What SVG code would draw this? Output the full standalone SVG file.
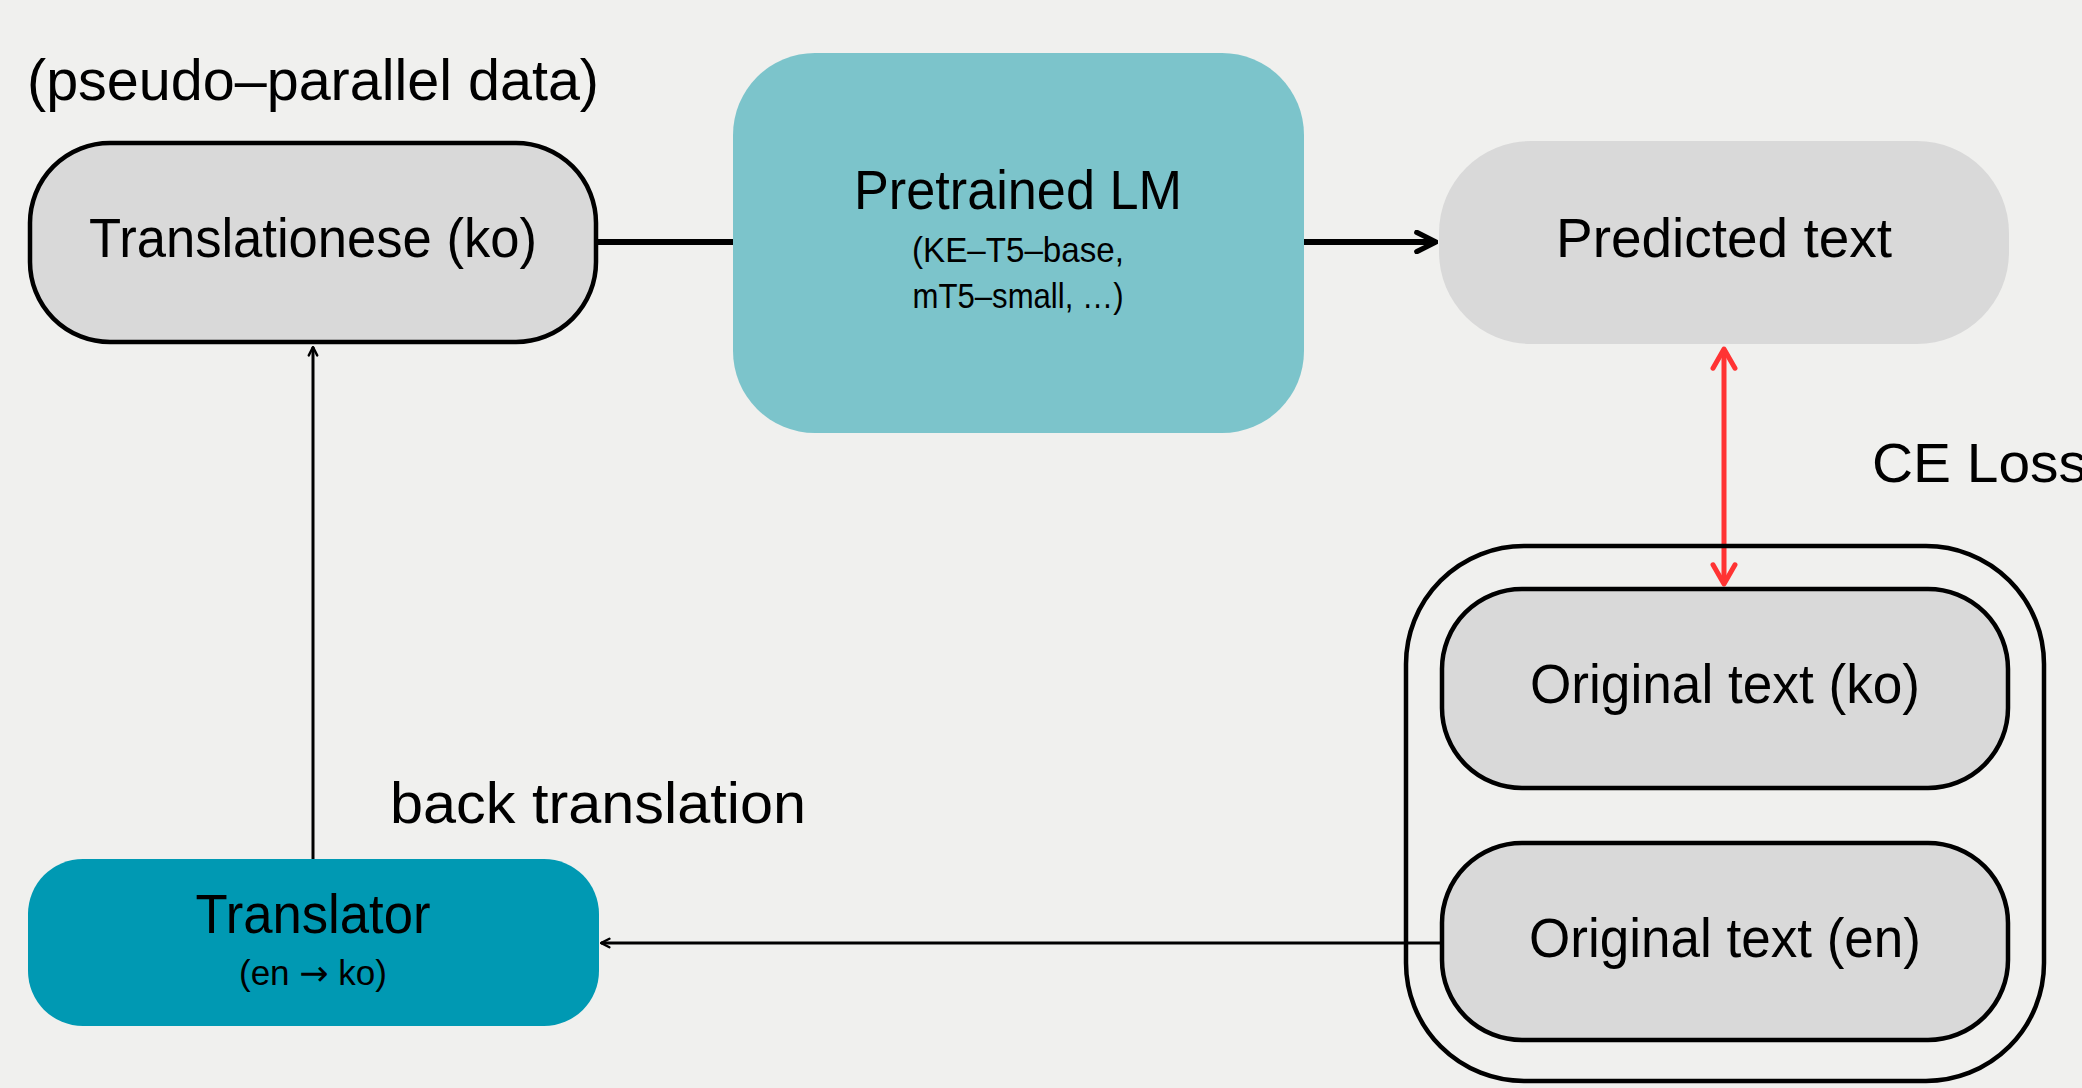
<svg xmlns="http://www.w3.org/2000/svg" width="2082" height="1088" viewBox="0 0 2082 1088">
<style>
text{font-family:"Liberation Sans",Arial,sans-serif;fill:#000}
.lbl{font-size:55px;text-anchor:middle}
.sub{font-size:35px;text-anchor:middle}
.free{font-size:57px}
.gray{fill:#D9D9D9}
.stk{stroke:#000;stroke-width:4.5}
.thin{stroke:#000;stroke-width:3;fill:none}
.arr{font-family:"DejaVu Sans",sans-serif}
</style>
<defs>
<marker id="headThick" viewBox="0 0 10 10" refX="9" refY="5" markerWidth="4" markerHeight="4" orient="auto" markerUnits="strokeWidth">
<path d="M1,1 L9,5 L1,9" fill="none" stroke="#000" stroke-width="2.2" stroke-linecap="round" stroke-linejoin="round"/>
</marker>
<marker id="headThin" viewBox="0 0 10 10" refX="9" refY="5" markerWidth="4" markerHeight="4" orient="auto" markerUnits="strokeWidth">
<path d="M2,1.5 L9,5 L2,8.5" fill="none" stroke="#000" stroke-width="2" stroke-linecap="round" stroke-linejoin="round"/>
</marker>
<marker id="headRed" viewBox="0 0 10 10" refX="9" refY="5" markerWidth="5.5" markerHeight="5.5" orient="auto-start-reverse" markerUnits="strokeWidth">
<path d="M2,1 L9,5 L2,9" fill="none" stroke="#FF3333" stroke-width="1.8" stroke-linecap="round" stroke-linejoin="round"/>
</marker>
</defs>
<rect x="0" y="0" width="2082" height="1088" fill="#F0F0EE"/>

<g id="connectors">
<line x1="597" y1="242" x2="733" y2="242" stroke="#000" stroke-width="6"/>
<line x1="1304" y1="242" x2="1436" y2="242" stroke="#000" stroke-width="6" marker-end="url(#headThick)"/>
<line x1="1724" y1="349" x2="1724" y2="584" stroke="#FF3333" stroke-width="5" marker-start="url(#headRed)" marker-end="url(#headRed)"/>
<line x1="1441" y1="943" x2="601" y2="943" class="thin" marker-end="url(#headThin)"/>
<line x1="313" y1="859" x2="313" y2="347" class="thin" marker-end="url(#headThin)"/>
</g>

<g id="label-pseudo">
<text class="free" x="27" y="100" textLength="572" lengthAdjust="spacingAndGlyphs">(pseudo–parallel data)</text>
</g>

<g id="node-translationese">
<rect x="30" y="143" width="566" height="199" rx="80" class="gray stk"/>
<text class="lbl" x="313" y="257" textLength="448" lengthAdjust="spacingAndGlyphs">Translationese (ko)</text>
</g>

<g id="node-lm">
<rect x="733" y="53" width="571" height="380" rx="82" fill="#7CC4CB"/>
<text class="lbl" x="1018" y="209" textLength="328" lengthAdjust="spacingAndGlyphs">Pretrained LM</text>
<text class="sub" x="1018" y="262" textLength="212" lengthAdjust="spacingAndGlyphs">(KE–T5–base,</text>
<text class="sub" x="1018" y="308" textLength="211" lengthAdjust="spacingAndGlyphs">mT5–small, …)</text>
</g>

<g id="node-predicted">
<rect x="1439" y="141" width="570" height="203" rx="92" class="gray"/>
<text class="lbl" x="1724" y="257" textLength="336" lengthAdjust="spacingAndGlyphs">Predicted text</text>
</g>

<g id="label-ce">
<text class="free" x="1872" y="482" style="font-size:55px" textLength="215" lengthAdjust="spacingAndGlyphs">CE Loss</text>
</g>

<g id="group-original">
<rect x="1406" y="546" width="638" height="535" rx="118" fill="none" class="stk"/>
</g>

<g id="node-orig-ko">
<rect x="1442" y="589" width="566" height="199" rx="80" class="gray stk"/>
<text class="lbl" x="1725" y="703" textLength="390" lengthAdjust="spacingAndGlyphs">Original text (ko)</text>
</g>

<g id="node-orig-en">
<rect x="1442" y="843" width="566" height="197" rx="80" class="gray stk"/>
<text class="lbl" x="1725" y="957" textLength="392" lengthAdjust="spacingAndGlyphs">Original text (en)</text>
</g>

<g id="label-back">
<text class="free" x="390" y="823" textLength="416" lengthAdjust="spacingAndGlyphs">back translation</text>
</g>

<g id="node-translator">
<rect x="28" y="859" width="571" height="167" rx="55" fill="#0099B3"/>
<text class="lbl" x="313" y="933" textLength="235" lengthAdjust="spacingAndGlyphs">Translator</text>
<text class="sub" x="313" y="985">(en <tspan class="arr">→</tspan> ko)</text>
</g>
</svg>
